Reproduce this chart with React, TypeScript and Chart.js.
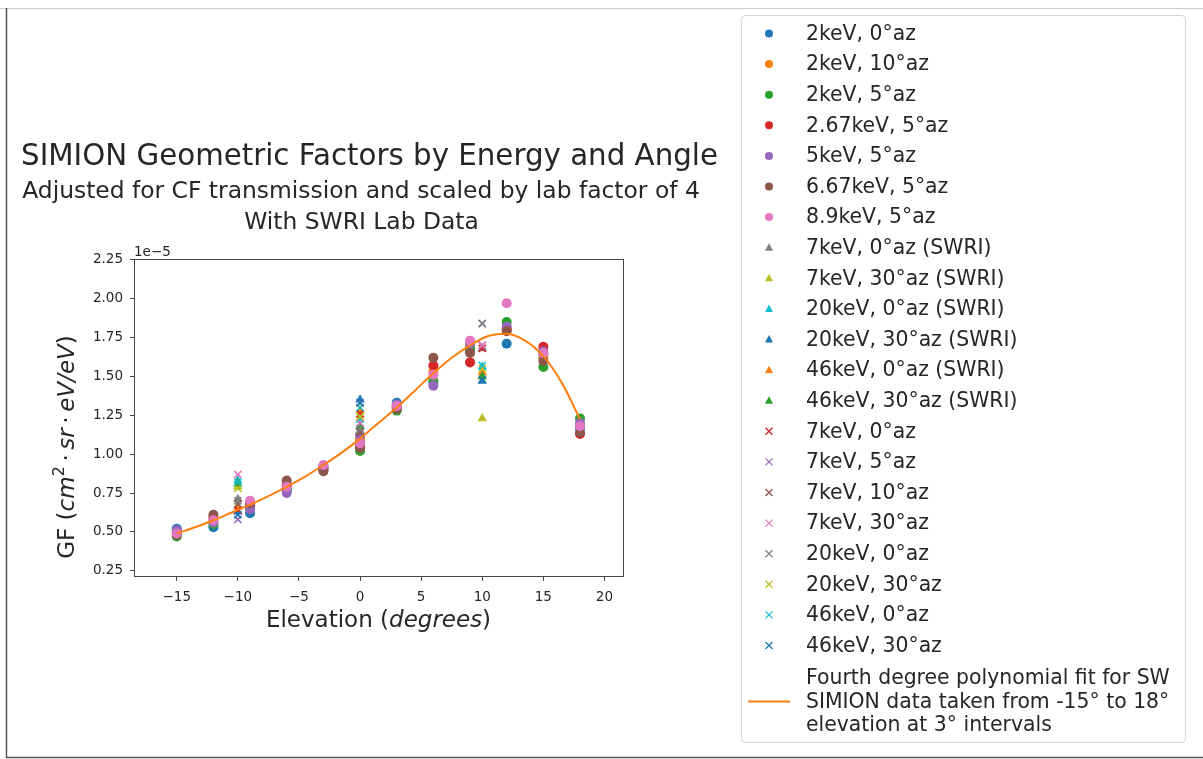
import React, { useEffect, useRef } from 'react';
import { Chart, registerables } from 'chart.js';

Chart.register(...registerables);

const FONT = '"DejaVu Sans", "Liberation Sans", sans-serif';
const TEXT_COLOR = '#262626';
const AXIS_COLOR = '#444444';

// matplotlib tab10 palette
const C0 = '#1f77b4';
const C1 = '#ff7f0e';
const C2 = '#2ca02c';
const C3 = '#d62728';
const C4 = '#9467bd';
const C5 = '#8c564b';
const C6 = '#e377c2';
const C7 = '#7f7f7f';
const C8 = '#bcbd22';
const C9 = '#17becf';

// Elevation angles (degrees)
const simionElevations = [-15, -12, -9, -6, -3, 0, 3, 6, 9, 12, 15, 18];
const swriElevations = [-10, 0, 10];

// Geometric factor values, in units of 1e-5 cm^2 sr eV/eV
const gf2keV0az = [0.52, 0.53, 0.62, 0.77, 0.91, 1.08, 1.33, 1.46, 1.67, 1.71, 1.64, 1.17];
const gf2keV10az = [0.5, 0.57, 0.66, 0.79, 0.92, 1.1, 1.31, 1.53, 1.69, 1.81, 1.62, 1.19];
const gf2keV5az = [0.47, 0.55, 0.65, 0.78, 0.91, 1.02, 1.28, 1.47, 1.68, 1.85, 1.56, 1.23];
const gf267keV5az = [0.49, 0.59, 0.67, 0.8, 0.9, 1.05, 1.3, 1.57, 1.59, 1.8, 1.69, 1.13];
const gf5keV5az = [0.51, 0.56, 0.645, 0.75, 0.92, 1.12, 1.32, 1.44, 1.71, 1.82, 1.66, 1.2];
const gf667keV5az = [0.48, 0.61, 0.685, 0.83, 0.89, 1.04, 1.29, 1.62, 1.65, 1.79, 1.6, 1.14];
const gf89keV5az = [0.49, 0.575, 0.7, 0.79, 0.93, 1.07, 1.31, 1.51, 1.73, 1.97, 1.65, 1.18];

// SWRI lab measurements
const lab7keV0az = [0.71, 1.15, 1.68];
const lab7keV30az = [0.79, 1.25, 1.23];
const lab20keV0az = [0.83, 1.22, 1.56];
const lab20keV30az = [0.63, 1.35, 1.47];
const lab46keV0az = [0.66, 1.28, 1.525];
const lab46keV30az = [0.81, 1.18, 1.5];

// SIMION runs at SWRI lab energies
const sim7keV0az = [0.64, 1.26, 1.68];
const sim7keV5az = [0.58, 1.33, 1.84];
const sim7keV10az = [0.68, 1.14, 1.7];
const sim7keV30az = [0.87, 1.2, 1.7];
const sim20keV0az = [0.7, 1.16, 1.84];
const sim20keV30az = [0.78, 1.24, 1.55];
const sim46keV0az = [0.82, 1.3, 1.57];
const sim46keV30az = [0.61, 1.33, 1.48];

// Fourth degree polynomial fit, sampled along elevation
const fitElevations = [-15, -13.5, -12, -10.5, -9, -7.5, -6, -4.5, -3, -1.5, 0, 1.5, 3, 4.5, 6, 7.5, 9, 10.5, 12, 13.5, 15, 16.5, 18];
const fitValues = [0.49, 0.53, 0.575, 0.625, 0.675, 0.73, 0.79, 0.855, 0.93, 1.01, 1.1, 1.2, 1.3, 1.41, 1.52, 1.62, 1.7, 1.76, 1.775, 1.73, 1.63, 1.46, 1.225];
const fitLabelLines = [
  'Fourth degree polynomial fit for SW',
  'SIMION data taken from -15\u00b0 to 18\u00b0',
  'elevation at 3\u00b0 intervals',
];

const xTicks = [-15, -10, -5, 0, 5, 10, 15, 20];
const yTicks = [0.25, 0.5, 0.75, 1.0, 1.25, 1.5, 1.75, 2.0, 2.25];

const titleText = 'SIMION Geometric Factors by Energy and Angle';
const subtitleLines = ['Adjusted for CF transmission and scaled by lab factor of 4', 'With SWRI Lab Data'];

type Series = { label: string; xs: number[]; ys: number[]; color: string; style: 'circle' | 'triangle' | 'crossRot' };

const series: Series[] = [
  { label: '2keV, 0\u00b0az', xs: simionElevations, ys: gf2keV0az, color: C0, style: 'circle' },
  { label: '2keV, 10\u00b0az', xs: simionElevations, ys: gf2keV10az, color: C1, style: 'circle' },
  { label: '2keV, 5\u00b0az', xs: simionElevations, ys: gf2keV5az, color: C2, style: 'circle' },
  { label: '2.67keV, 5\u00b0az', xs: simionElevations, ys: gf267keV5az, color: C3, style: 'circle' },
  { label: '5keV, 5\u00b0az', xs: simionElevations, ys: gf5keV5az, color: C4, style: 'circle' },
  { label: '6.67keV, 5\u00b0az', xs: simionElevations, ys: gf667keV5az, color: C5, style: 'circle' },
  { label: '8.9keV, 5\u00b0az', xs: simionElevations, ys: gf89keV5az, color: C6, style: 'circle' },
  { label: '7keV, 0\u00b0az (SWRI)', xs: swriElevations, ys: lab7keV0az, color: C7, style: 'triangle' },
  { label: '7keV, 30\u00b0az (SWRI)', xs: swriElevations, ys: lab7keV30az, color: C8, style: 'triangle' },
  { label: '20keV, 0\u00b0az (SWRI)', xs: swriElevations, ys: lab20keV0az, color: C9, style: 'triangle' },
  { label: '20keV, 30\u00b0az (SWRI)', xs: swriElevations, ys: lab20keV30az, color: C0, style: 'triangle' },
  { label: '46keV, 0\u00b0az (SWRI)', xs: swriElevations, ys: lab46keV0az, color: C1, style: 'triangle' },
  { label: '46keV, 30\u00b0az (SWRI)', xs: swriElevations, ys: lab46keV30az, color: C2, style: 'triangle' },
  { label: '7keV, 0\u00b0az', xs: swriElevations, ys: sim7keV0az, color: C3, style: 'crossRot' },
  { label: '7keV, 5\u00b0az', xs: swriElevations, ys: sim7keV5az, color: C4, style: 'crossRot' },
  { label: '7keV, 10\u00b0az', xs: swriElevations, ys: sim7keV10az, color: C5, style: 'crossRot' },
  { label: '7keV, 30\u00b0az', xs: swriElevations, ys: sim7keV30az, color: C6, style: 'crossRot' },
  { label: '20keV, 0\u00b0az', xs: swriElevations, ys: sim20keV0az, color: C7, style: 'crossRot' },
  { label: '20keV, 30\u00b0az', xs: swriElevations, ys: sim20keV30az, color: C8, style: 'crossRot' },
  { label: '46keV, 0\u00b0az', xs: swriElevations, ys: sim46keV0az, color: C9, style: 'crossRot' },
  { label: '46keV, 30\u00b0az', xs: swriElevations, ys: sim46keV30az, color: C0, style: 'crossRot' },
];

type Run = { text: string; font: string; dy?: number };

function runsWidth(ctx: CanvasRenderingContext2D, runs: Run[]) {
  let w = 0;
  for (const r of runs) {
    ctx.font = r.font;
    w += ctx.measureText(r.text).width;
  }
  return w;
}

function drawRuns(ctx: CanvasRenderingContext2D, runs: Run[], cx: number, cy: number) {
  let x = cx - runsWidth(ctx, runs) / 2;
  ctx.textAlign = 'left';
  ctx.textBaseline = 'middle';
  for (const r of runs) {
    ctx.font = r.font;
    ctx.fillText(r.text, x, cy + (r.dy || 0));
    x += ctx.measureText(r.text).width;
  }
}

function drawMarker(ctx: CanvasRenderingContext2D, style: string, color: string, x: number, y: number, r: number) {
  ctx.save();
  ctx.fillStyle = color;
  ctx.strokeStyle = color;
  if (style === 'circle') {
    ctx.beginPath();
    ctx.arc(x, y, r, 0, Math.PI * 2);
    ctx.fill();
  } else if (style === 'triangle') {
    ctx.beginPath();
    ctx.moveTo(x, y - r * 1.1);
    ctx.lineTo(x + r, y + r * 0.75);
    ctx.lineTo(x - r, y + r * 0.75);
    ctx.closePath();
    ctx.fill();
  } else {
    ctx.lineWidth = 1.3;
    ctx.beginPath();
    ctx.moveTo(x - r, y - r);
    ctx.lineTo(x + r, y + r);
    ctx.moveTo(x - r, y + r);
    ctx.lineTo(x + r, y - r);
    ctx.stroke();
  }
  ctx.restore();
}

const figurePlugin = {
  id: 'figureDecor',
  afterDraw(chart: any) {
    const ctx: CanvasRenderingContext2D = chart.ctx;
    const { left, right, top, bottom } = chart.chartArea;
    ctx.save();

    // outer frame of the figure
    ctx.strokeStyle = '#cccccc';
    ctx.lineWidth = 1;
    ctx.beginPath();
    ctx.moveTo(0, 8.5);
    ctx.lineTo(1203, 8.5);
    ctx.stroke();
    ctx.strokeStyle = '#555555';
    ctx.lineWidth = 1.5;
    ctx.beginPath();
    ctx.moveTo(6.5, 8);
    ctx.lineTo(6.5, 757.5);
    ctx.lineTo(1203, 757.5);
    ctx.stroke();

    // axes box
    ctx.strokeStyle = AXIS_COLOR;
    ctx.lineWidth = 1;
    ctx.strokeRect(Math.round(left) + 0.5, Math.round(top) + 0.5, Math.round(right - left) - 1, Math.round(bottom - top) - 1);

    ctx.fillStyle = TEXT_COLOR;

    // titles
    drawRuns(ctx, [{ text: titleText, font: `29.3px ${FONT}` }], 369.5, 157.5);
    drawRuns(ctx, [{ text: subtitleLines[0], font: `23.4px ${FONT}` }], 361, 192);
    drawRuns(ctx, [{ text: subtitleLines[1], font: `23.4px ${FONT}` }], 361.5, 223);

    // axis offset text
    ctx.font = `13.5px ${FONT}`;
    ctx.textAlign = 'left';
    ctx.textBaseline = 'alphabetic';
    ctx.fillText('1e\u22125', left, top - 3);

    // x axis title
    const xf = `23px ${FONT}`;
    const xfi = `italic 23px ${FONT}`;
    drawRuns(ctx, [
      { text: 'Elevation (', font: xf },
      { text: 'degrees', font: xfi },
      { text: ')', font: xf },
    ], 378.5, 621);

    // y axis title, rotated
    ctx.save();
    ctx.translate(68, 447);
    ctx.rotate(-Math.PI / 2);
    drawRuns(ctx, [
      { text: 'GF (', font: xf },
      { text: 'cm', font: xfi },
      { text: '2', font: `16px ${FONT}`, dy: -8 },
      { text: '\u2009\u00b7\u2009', font: xf },
      { text: 'sr', font: xfi },
      { text: '\u2009\u00b7\u2009', font: xf },
      { text: 'eV/eV', font: xfi },
      { text: ')', font: xf },
    ], 0, 0);
    ctx.restore();

    // legend
    const lx0 = 741.5;
    const ly0 = 15.5;
    const lw = 444;
    const lh = 727;
    ctx.beginPath();
    ctx.roundRect(lx0, ly0, lw, lh, 4);
    ctx.fillStyle = 'rgba(255,255,255,0.8)';
    ctx.fill();
    ctx.strokeStyle = '#d6d6d6';
    ctx.lineWidth = 1;
    ctx.stroke();

    const markerX = 769;
    const textX = 806;
    const rowStart = 34.5;
    const rowStep = 30.6;
    ctx.font = `20.4px ${FONT}`;
    ctx.textAlign = 'left';
    ctx.textBaseline = 'middle';
    series.forEach((s, i) => {
      const y = rowStart + rowStep * i;
      const r = s.style === 'circle' ? 4 : s.style === 'triangle' ? 4 : 3.5;
      drawMarker(ctx, s.style, s.color, markerX, y - 1, r);
      ctx.fillStyle = TEXT_COLOR;
      ctx.fillText(s.label, textX, y);
    });
    const fitRows = [679, 702.5, 726];
    ctx.strokeStyle = C1;
    ctx.lineWidth = 2;
    ctx.beginPath();
    ctx.moveTo(748, fitRows[1] - 1);
    ctx.lineTo(790, fitRows[1] - 1);
    ctx.stroke();
    ctx.fillStyle = TEXT_COLOR;
    fitLabelLines.forEach((t, i) => ctx.fillText(t, textX, fitRows[i]));

    ctx.restore();
  },
};

export default function App() {
  const canvasRef = useRef<HTMLCanvasElement | null>(null);

  useEffect(() => {
    const canvas = canvasRef.current;
    if (!canvas) return;

    const datasets: any[] = series.map((s, i) => ({
      type: 'scatter',
      label: s.label,
      data: s.xs.map((x, k) => ({ x, y: s.ys[k] })),
      pointStyle: s.style,
      pointRadius: s.style === 'circle' ? 5 : s.style === 'triangle' ? 5.5 : 5,
      backgroundColor: s.color,
      borderColor: s.color,
      borderWidth: s.style === 'crossRot' ? 1.6 : 0,
      showLine: false,
      order: -i,
    }));
    datasets.push({
      type: 'line',
      label: fitLabelLines.join(' '),
      data: fitElevations.map((x, k) => ({ x, y: fitValues[k] })),
      borderColor: C1,
      borderWidth: 2,
      pointRadius: 0,
      fill: false,
      cubicInterpolationMode: 'monotone',
      order: -series.length,
    });

    const tickFont = { family: FONT, size: 13.5 };

    const chart = new Chart(canvas, {
      type: 'scatter',
      data: { datasets },
      options: {
        responsive: false,
        animation: false,
        devicePixelRatio: 1,
        layout: { padding: { left: 0, top: 259, right: 579, bottom: 142 } },
        plugins: { legend: { display: false }, tooltip: { enabled: false }, title: { display: false } },
        scales: {
          x: {
            type: 'linear',
            min: -18.5,
            max: 21.6,
            afterBuildTicks: (scale: any) => {
              scale.ticks = xTicks.map((v) => ({ value: v }));
            },
            afterFit: (scale: any) => {
              scale.height = 40;
            },
            ticks: {
              font: tickFont,
              color: TEXT_COLOR,
              padding: 8,
              maxRotation: 0,
              callback: (v: any) => String(v).replace('-', '\u2212'),
            },
            grid: { display: true, drawOnChartArea: false, drawTicks: true, tickLength: 4, color: AXIS_COLOR },
            border: { display: false },
          },
          y: {
            type: 'linear',
            min: 0.21,
            max: 2.255,
            afterBuildTicks: (scale: any) => {
              scale.ticks = yTicks.map((v) => ({ value: v }));
            },
            afterFit: (scale: any) => {
              scale.width = 134;
            },
            ticks: {
              font: tickFont,
              color: TEXT_COLOR,
              padding: 7,
              callback: (v: any) => Number(v).toFixed(2),
            },
            grid: { display: true, drawOnChartArea: false, drawTicks: true, tickLength: 4, color: AXIS_COLOR },
            border: { display: false },
          },
        },
      },
      plugins: [figurePlugin],
    } as any);

    return () => chart.destroy();
  }, []);

  return (
    <div style={{ position: 'fixed', left: 0, top: 0, width: 1203, height: 759, background: '#ffffff' }}>
      <canvas ref={canvasRef} width={1203} height={759} style={{ display: 'block' }} />
    </div>
  );
}
